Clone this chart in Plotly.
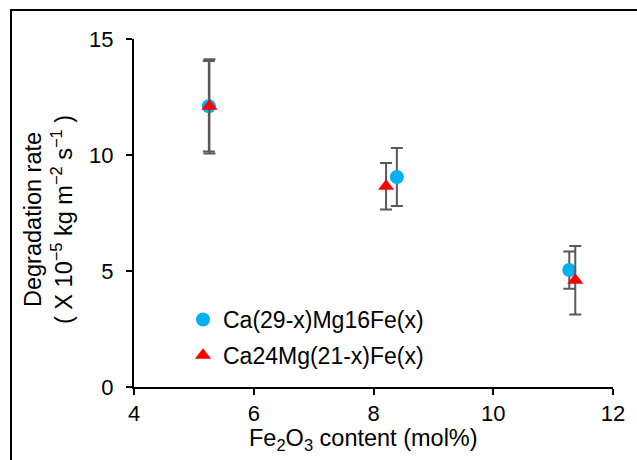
import plotly.graph_objects as go

# Data
fe_a = [5.25, 8.39, 11.27]
rate_a = [12.1, 9.05, 5.04]
err_a = [1.95, 1.25, 0.8]

fe_b = [5.26, 8.21, 11.37]
rate_b = [12.1, 8.65, 4.6]
err_b = [2.03, 1.0, 1.48]

name_a = "Ca(29-x)Mg16Fe(x)"
name_b = "Ca24Mg(21-x)Fe(x)"

x_title = "Fe<sub>2</sub>O<sub>3</sub> content (mol%)"
y_title = "Degradation rate<br>( X 10<sup>\u22125</sup> kg m<sup>\u22122</sup> s<sup>\u22121</sup> )"

FONT = "Arial, Liberation Sans, sans-serif"
W, H = 637, 460
L, R, T, B = 134, 24, 39, 73

fig = go.Figure()
fig.add_trace(go.Scatter(
    x=fe_a, y=rate_a, mode="markers", name=name_a, legendgroup="a",
    marker=dict(symbol="circle", size=14, color="#00B0F0"),
    error_y=dict(type="data", array=err_a, visible=True, color="#595959", thickness=2, width=6),
))
fig.add_trace(go.Scatter(
    x=fe_b, y=rate_b, mode="markers", name=name_b, legendgroup="b",
    marker=dict(symbol="triangle-up", size=14, color="#FF0000"),
    error_y=dict(type="data", array=err_b, visible=True, color="#595959", thickness=2, width=6),
))

pw = W - L - R
ph = H - T - B
def px_x(p):
    return (p - L) / pw
def px_y(p):
    return (H - B - p) / ph

# outer frame (top and left lines)
fig.add_shape(type="line", xref="paper", yref="paper",
              x0=px_x(11), x1=px_x(11), y0=px_y(470), y1=px_y(10),
              line=dict(color="black", width=2))
fig.add_shape(type="line", xref="paper", yref="paper",
              x0=px_x(10), x1=px_x(650), y0=px_y(10), y1=px_y(10),
              line=dict(color="black", width=2))

# axis titles
fig.add_annotation(text=x_title, xref="paper", yref="paper",
                   x=px_x(363), y=px_y(439), xanchor="center", yanchor="middle",
                   showarrow=False, font=dict(size=23.5))
fig.add_annotation(text=y_title, xref="paper", yref="paper", textangle=-90,
                   x=px_x(48), y=px_y(220), xanchor="center", yanchor="middle",
                   showarrow=False, font=dict(size=23.5))

fig.update_layout(
    width=W, height=H,
    margin=dict(l=L, r=R, t=T, b=B, pad=0),
    paper_bgcolor="white", plot_bgcolor="white",
    font=dict(family=FONT, size=22, color="black"),
    showlegend=True,
    legend=dict(x=px_x(183), y=px_y(298), xanchor="left", yanchor="top",
                bgcolor="rgba(0,0,0,0)", font=dict(size=23),
                itemwidth=30, tracegroupgap=3, traceorder="grouped"),
    xaxis=dict(range=[4, 12], tickvals=[4, 6, 8, 10, 12],
               showline=True, linecolor="black", linewidth=2,
               ticks="outside", ticklen=6, tickwidth=2, tickcolor="black",
               tickfont=dict(size=22),
               showgrid=False, zeroline=False),
    yaxis=dict(range=[0, 15], tickvals=[0, 5, 10, 15],
               showline=True, linecolor="black", linewidth=2,
               ticks="outside", ticklen=6, tickwidth=2, tickcolor="black",
               tickfont=dict(size=22), ticklabelstandoff=8,
               showgrid=False, zeroline=False),
)

fig.write_html("out.html")
